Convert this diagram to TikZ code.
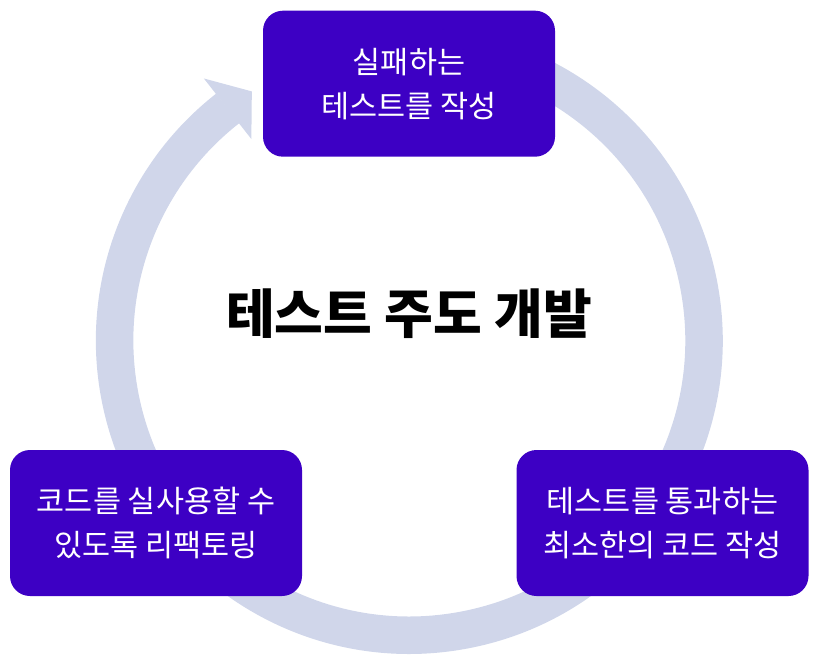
\documentclass[tikz,border=0pt]{standalone}
\usepackage{fontspec}
\newfontfamily\krfont{Noto Sans CJK KR}
\usetikzlibrary{calc}
\definecolor{boxpurple}{RGB}{61,0,196}
\definecolor{ringblue}{RGB}{208,214,234}
\tikzset{
  stepbox/.style={fill=boxpurple, rounded corners=20pt, minimum width=292pt, minimum height=146pt,
    inner sep=0pt, text=white, align=center, font=\krfont\fontsize{30.5}{44}\selectfont},
  ring/.style={draw=ringblue, line width=37.5pt},
  titletext/.style={font=\krfont\bfseries\fontsize{53}{60}\selectfont, text=black}
}
\begin{document}
\begin{tikzpicture}[x=1pt,y=-1pt]
\useasboundingbox (0,0) rectangle (827,661);
\coordinate (c) at (409.3,340.5);
\draw[ring] ($(c)+(-100:294.7)$) arc[start angle=-100, end angle=232, radius=294.7];
\fill[ringblue] ($(c)+(231.9:333)$) -- ($(c)+(237.7:294.7)$) -- ($(c)+(231.9:256)$) -- cycle;
\node[stepbox] (fail) at (409,83.7) {실패하는\\테스트를 작성};
\node[stepbox] (refactor) at (156,523) {코드를 실사용할 수\\있도록 리팩토링};
\node[stepbox] (pass) at (662.5,523) {테스트를 통과하는\\최소한의 코드 작성};
\node[titletext] (tdd) at (409,313.7) {테스트 주도 개발};
\end{tikzpicture}
\end{document}
